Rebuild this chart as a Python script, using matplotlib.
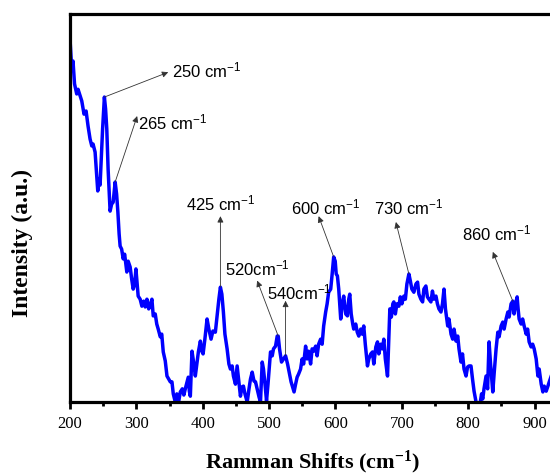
import matplotlib
matplotlib.use('Agg')
import matplotlib.pyplot as plt

plt.rcParams['mathtext.default'] = 'regular'

# Raman spectrum (x in cm-1, intensity in a.u.)
shift = [200.0, 202.6, 204.5, 206.8, 210.1, 212.1, 217.7, 221.1, 224.2, 227.2,
         230.2, 232.8, 234.7, 237.8, 240.0, 241.8, 243.8, 245.3, 246.8, 249.1,
         251.8, 253.6, 255.4, 257.4, 260.4, 262.7, 265.0, 268.0, 270.2, 272.1,
         274.0, 275.5, 277.8, 280.1, 282.3, 285.6, 287.6, 290.6, 292.9, 295.2,
         297.4, 299.3, 301.2, 302.7, 305.7, 308.3, 311.0, 313.3, 315.9, 318.6,
         320.8, 323.4, 325.4, 328.4, 330.7, 332.9, 336.0, 338.2, 340.5, 343.5,
         346.1, 348.8, 351.1, 353.6, 355.6, 358.6, 360.9, 363.1, 366.2, 369.2,
         371.5, 373.7, 376.7, 378.2, 379.8, 381.3, 383.8, 386.6, 388.8, 391.4,
         393.4, 396.4, 398.6, 400.5, 403.2, 406.5, 409.2, 412.5, 415.3, 419.0,
         422.0, 424.3, 426.6, 428.8, 431.1, 433.4, 436.7, 439.4, 441.7, 444.3,
         446.2, 449.3, 451.8, 454.5, 456.8, 459.1, 461.3, 463.6, 467.0, 469.7,
         471.9, 474.5, 477.2, 479.5, 482.0, 484.8, 487.0, 489.6, 491.5, 493.8,
         496.1, 498.3, 500.6, 502.1, 504.7, 506.6, 509.7, 512.2, 513.7, 515.7,
         518.7, 521.7, 524.8, 527.8, 530.8, 533.1, 535.4, 537.6, 539.9, 542.2,
         544.4, 547.4, 549.7, 552.0, 555.0, 557.2, 559.5, 562.5, 564.8, 567.1,
         570.1, 572.3, 574.6, 577.6, 579.9, 582.2, 585.2, 587.4, 589.7, 592.8,
         595.0, 597.3, 599.6, 601.1, 602.9, 604.9, 606.4, 607.9, 610.1, 612.4,
         615.4, 618.0, 620.0, 621.5, 623.7, 626.0, 627.5, 630.5, 632.8, 635.1,
         638.1, 640.3, 642.6, 644.9, 648.2, 650.2, 653.2, 655.8, 657.7, 660.8,
         663.3, 665.3, 668.3, 670.9, 672.8, 675.1, 678.4, 680.4, 681.9, 684.2,
         686.4, 687.9, 690.2, 692.5, 695.5, 697.7, 700.0, 703.0, 705.3, 707.6,
         710.6, 712.8, 715.1, 718.1, 721.2, 723.7, 725.7, 728.7, 731.3, 733.2,
         736.2, 738.5, 740.8, 743.8, 746.1, 748.3, 751.4, 753.6, 755.9, 758.9,
         761.2, 763.5, 765.7, 769.1, 771.0, 774.1, 776.6, 778.6, 781.6, 784.2,
         786.1, 789.1, 791.4, 793.7, 796.7, 799.0, 801.2, 804.2, 806.5, 808.8,
         811.8, 814.8, 817.8, 820.1, 821.9, 823.8, 826.9, 829.2, 831.4, 833.7,
         837.0, 839.0, 842.0, 844.6, 846.5, 849.6, 852.1, 854.1, 857.1, 859.7,
         861.6, 864.6, 867.2, 869.1, 871.4, 873.7, 875.2, 876.7, 879.7, 882.0,
         884.3, 887.3, 889.5, 891.8, 894.8, 897.1, 899.4, 902.4, 905.0, 906.9,
         910.0, 912.5, 914.5, 917.5, 920.1, 922.1, 925.1, 932.6]
intensity = [93.5, 85.8, 87.9, 82.0, 79.4, 80.6, 77.6, 74.2, 75.0, 71.1,
             67.8, 66.0, 66.5, 64.4, 58.8, 54.4, 57.5, 55.9, 61.8, 70.4,
             78.6, 75.5, 70.4, 60.0, 49.2, 51.0, 51.5, 56.7, 53.6, 49.0,
             43.3, 40.2, 39.4, 36.9, 38.1, 33.5, 36.3, 34.8, 31.7, 29.1,
             30.4, 34.3, 30.4, 27.3, 26.5, 24.7, 26.0, 24.5, 26.5, 24.0,
             25.0, 26.5, 22.2, 22.7, 20.1, 18.8, 16.8, 17.5, 12.9, 10.6,
             6.7, 5.9, 5.2, 5.2, 2.1, 0.0, 2.1, -0.5, 2.6, 3.4,
             1.8, 3.4, 5.4, 6.4, 2.8, 1.5, 13.1, 9.8, 6.7, 10.3,
             12.9, 15.7, 13.1, 12.4, 16.2, 21.4, 18.8, 16.2, 18.3, 18.0,
             22.7, 26.5, 29.6, 27.8, 23.2, 17.5, 13.7, 9.8, 8.5, 9.3,
             6.7, 4.6, 9.3, 5.2, 1.5, 3.9, 4.1, 2.1, 0.0, 3.4,
             5.9, 7.7, 5.4, 5.2, 3.4, 1.3, 0.0, 10.3, 8.5, 4.6,
             0.3, 4.6, 9.8, 12.9, 11.9, 13.7, 14.4, 17.0, 17.0, 13.7,
             10.3, 11.1, 11.9, 9.8, 7.2, 5.2, 3.9, 2.6, 4.6, 6.4,
             7.2, 8.5, 11.1, 9.8, 14.4, 11.1, 13.1, 9.8, 13.7, 13.1,
             14.4, 11.9, 14.9, 16.2, 14.9, 19.6, 23.2, 25.3, 28.3, 29.1,
             33.0, 37.4, 36.3, 33.0, 32.5, 29.1, 25.3, 21.4, 25.3, 27.3,
             22.7, 22.2, 26.5, 27.8, 22.7, 20.1, 18.8, 20.1, 18.0, 17.0,
             18.8, 17.5, 19.6, 14.9, 9.3, 11.1, 12.4, 12.9, 9.8, 14.2,
             15.5, 12.4, 14.9, 13.7, 16.2, 11.1, 6.7, 16.2, 24.0, 21.9,
             25.3, 25.8, 22.7, 25.3, 24.7, 27.1, 25.3, 27.3, 26.5, 30.4,
             33.0, 31.2, 29.1, 28.3, 30.4, 30.9, 27.8, 26.5, 25.8, 29.1,
             29.9, 27.1, 26.5, 25.8, 28.6, 26.5, 27.3, 25.3, 24.0, 23.2,
             25.3, 29.1, 24.0, 19.6, 21.4, 17.5, 16.2, 18.8, 15.7, 17.0,
             13.7, 10.3, 12.4, 8.5, 6.7, 9.0, 9.3, 9.3, 5.9, 2.8,
             0.0, -1.3, -0.5, 2.1, 0.8, 3.4, 6.7, 3.4, 15.5, 9.8,
             2.6, 7.2, 13.7, 18.0, 16.8, 19.6, 20.6, 18.8, 21.4, 23.2,
             21.9, 25.3, 26.0, 22.7, 25.3, 27.1, 24.0, 21.4, 20.1, 21.4,
             19.6, 17.5, 18.8, 15.5, 14.2, 14.9, 13.7, 11.1, 6.7, 8.5,
             4.6, 2.6, 4.1, 2.8, 4.1, 5.2, 6.7, 7.2]

# peak labels: text, text position, arrow tail (on curve), arrow head
peak_labels = ['250 cm$^{-1}$', '265 cm$^{-1}$', '425 cm$^{-1}$', '520cm$^{-1}$',
               '540cm$^{-1}$', '600 cm$^{-1}$', '730 cm$^{-1}$', '860 cm$^{-1}$']
label_xy = [(354, 85.8), (303, 72.4), (427, 51.5), (434, 34.8),
            (497.5, 28.6), (585, 50.5), (710.6, 50.5), (843.5, 43.8)]
label_ha = ['left', 'left', 'center', 'left', 'left', 'center', 'center', 'center']
tail_xy = [(251.8, 78.6), (268.0, 56.7), (426.6, 29.6), (513.7, 17.0),
           (524.8, 11.9), (597.3, 37.4), (710.6, 33.0), (867.2, 26.0)]
head_xy = [(348.0, 85.0), (301.2, 73.7), (426.6, 47.9), (482.0, 31.3),
           (524.8, 26.1), (574.6, 47.9), (691.0, 46.4), (837.0, 38.7)]

fig = plt.figure(figsize=(5.5, 4.77), dpi=100)
ax = fig.add_axes([0.1273, 0.1551, 0.905, 0.8134])

ax.plot(shift, intensity, color='#0000ff', lw=2.5)

for txt, pos, ha, tail, head in zip(peak_labels, label_xy, label_ha, tail_xy, head_xy):
    ax.annotate('', xy=head, xytext=tail,
                arrowprops=dict(arrowstyle='-|>', color='#333333', lw=0.6,
                                mutation_scale=9, shrinkA=0, shrinkB=0))
    ax.text(pos[0], pos[1], txt, ha=ha, va='center', fontsize=12,
            family='Liberation Sans')

ax.set_xlim(200, 950)
ax.set_ylim(0, 100)
ax.set_xticks([200, 300, 400, 500, 600, 700, 800, 900])
ax.set_xticks([250, 350, 450, 550, 650, 750, 850, 950], minor=True)
ax.set_yticks([])
for lab in ax.get_xticklabels():
    lab.set_family('Liberation Serif')
ax.tick_params(axis='x', which='major', direction='out', length=5, width=2,
               labelsize=12, pad=4)
ax.tick_params(axis='x', which='minor', direction='out', length=3, width=2)
for s in ax.spines.values():
    s.set_linewidth(2.3)

ax.set_xlabel('Ramman Shifts (cm$^{-1}$)', family='Liberation Serif',
              fontweight='bold', fontsize=16)
ax.xaxis.set_label_coords(0.488, -0.117)
ax.set_ylabel('Intensity (a.u.)', family='Liberation Serif',
              fontweight='bold', fontsize=17)
ax.yaxis.set_label_coords(-0.0743, 0.412)

fig.savefig('out.png', dpi=100)
